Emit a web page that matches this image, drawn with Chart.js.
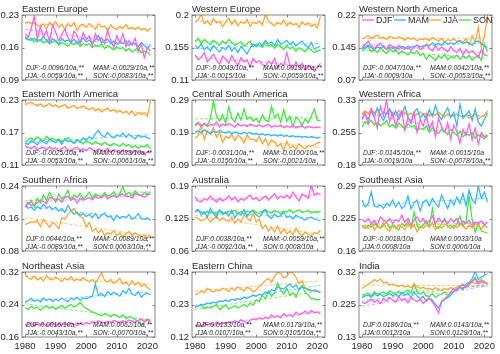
<!DOCTYPE html>
<html>
<head>
<meta charset="utf-8">
<script src="https://cdn.jsdelivr.net/npm/chart.js@4.4.1/dist/chart.umd.min.js"></script>
<style>
  html, body { margin: 0; padding: 0; background: #fff; }
  #wrap { position: relative; width: 500px; height: 354px; }
  #wrap canvas { position: absolute; left: 0; top: 0; }
</style>
</head>
<body>
<div id="wrap"></div>
<script>
// ---------------- data ----------------
const years = [1980,1981,1982,1983,1984,1985,1986,1987,1988,1989,1990,1991,1992,1993,1994,1995,1996,1997,1998,1999,
               2000,2001,2002,2003,2004,2005,2006,2007,2008,2009,2010,2011,2012,2013,2014,2015,2016,2017,2018,2019,2020,2021];
const xTicks = [1980, 1990, 2000, 2010, 2020];
const seasons = ['DJF', 'MAM', 'JJA', 'SON'];

const titles = ['Eastern Europe', 'Western Europe', 'Western North America',
                'Eastern North America', 'Central South America', 'Western Africa',
                'Southern Africa', 'Australia', 'Southeast Asia',
                'Northeast Asia', 'Eastern China', 'India'];

const yTicks = [
  [0.09, 0.16, 0.23], [0.11, 0.155, 0.2], [0.07, 0.145, 0.22],
  [0.11, 0.17, 0.23], [0.09, 0.19, 0.29], [0.18, 0.255, 0.33],
  [0.08, 0.16, 0.24], [0.06, 0.125, 0.19], [0.16, 0.225, 0.29],
  [0.16, 0.24, 0.32], [0.12, 0.23, 0.34], [0.13, 0.225, 0.32]
];

// trend labels: DJF, MAM, JJA, SON
const trendText = [
  ['-0.0096/10a,**', '-0.0029/10a,**', '-0.0059/10a,**', '-0.0083/10a,**'],
  ['-0.0049/10a,**', '0.0019/10a,**', '-0.0015/10a', '-0.0059/10a,**'],
  ['-0.0047/10a,**', '0.0042/10a,**', '-0.0009/10a', '-0.0053/10a,**'],
  ['-0.0025/10a,**', '0.0033/10a,**', '-0.0053/10a,**', '-0.0061/10a,**'],
  ['-0.0031/10a,**', '-0.0100/10a,**', '-0.0150/10a,**', '-0.0021/10a'],
  ['-0.0145/10a,**', '-0.0015/10a', '-0.0019/10a', '-0.0078/10a,**'],
  ['0.0044/10a,**', '-0.0089/10a,**', '-0.0089/10a,**', '0.0063/10a,**'],
  ['0.0038/10a,**', '-0.0059/10a,**', '-0.0092/10a,**', '0.0008/10a'],
  ['-0.0018/10a', '0.0033/10a', '0.0008/10a', '0.0006/10a'],
  ['0.0016/10a,**', '0.0062/10a,**', '-0.0043/10a,**', '-0.0070/10a,**'],
  ['0.0133/10a,**', '0.0179/10a,**', '0.0107/10a,**', '0.0105/10a,**'],
  ['0.0186/10a,**', '0.0143/10a,**', '0.0012/10a', '0.0129/10a,**']
];

// Eastern Europe
const eEuropeDJF = [.190,.182,.201,.228,.178,.205,.183,.196,.172,.208, .193,.175,.188,.200,.182,.170,.195,.186,.168,.192, .177,.185,.165,.190,.175,.182,.168,.198,.176,.160, .185,.170,.190,.162,.175,.165,.180,.150,.168,.138, .160,.152];
const eEuropeMAM = [.182,.176,.180,.172,.178,.175,.184,.176,.170,.179, .174,.168,.180,.173,.176,.171,.178,.169,.174,.180, .172,.176,.168,.177,.186,.170,.175,.178,.168,.174, .166,.172,.168,.175,.164,.170,.168,.162,.171,.164, .158,.166];
const eEuropeJJA = [.213,.215,.212,.214,.208,.205,.211,.200,.214,.207, .216,.203,.210,.199,.212,.205,.214,.196,.208,.210, .203,.212,.206,.199,.211,.204,.207,.196,.209,.202, .198,.206,.201,.210,.200,.203,.199,.204,.197,.201, .195,.202];
const eEuropeSON = [.183,.178,.175,.180,.172,.176,.170,.174,.168,.172, .175,.165,.170,.168,.163,.170,.166,.172,.162,.168, .165,.168,.160,.166,.162,.168,.158,.164,.160,.155, .162,.157,.160,.152,.158,.150,.155,.160,.148,.152, .150,.143];

// Western Europe
const wEuropeDJF = [.145,.138,.142,.148,.135,.140,.146,.137,.132,.143, .139,.133,.144,.136,.130,.141,.135,.138,.128,.140, .134,.137,.131,.129,.136,.132,.140,.127,.133,.130, .148,.131,.126,.135,.128,.133,.124,.130,.127,.122, .128,.133];
const wEuropeMAM = [.158,.154,.160,.152,.156,.150,.158,.153,.149,.155, .152,.158,.150,.155,.148,.156,.152,.146,.154,.160, .156,.162,.158,.165,.160,.163,.158,.166,.160,.162, .165,.159,.163,.157,.161,.164,.158,.155,.162,.153, .155,.157];
const wEuropeJJA = [.190,.193,.201,.188,.192,.186,.195,.189,.191,.184, .190,.196,.187,.193,.185,.191,.188,.194,.184,.190, .188,.192,.186,.201,.192,.188,.185,.190,.187,.193, .185,.190,.186,.188,.183,.191,.186,.189,.184,.187, .182,.198];
const wEuropeSON = [.163,.168,.160,.166,.162,.159,.165,.161,.158,.164, .160,.166,.162,.158,.161,.163,.157,.160,.164,.156, .160,.158,.155,.162,.157,.159,.154,.160,.156,.152, .158,.153,.156,.150,.155,.152,.149,.155,.151,.148, .150,.152];

// Western North America
const wnAmericaDJF = [.145,.152,.160,.148,.142,.150,.155,.146,.140,.152, .147,.139,.150,.143,.141,.148,.138,.146,.151,.140, .145,.152,.143,.137,.149,.139,.146,.141,.135,.147, .138,.133,.143,.128,.140,.132,.138,.130,.122,.140, .128,.125];
const wnAmericaMAM = [.142,.147,.150,.145,.140,.146,.144,.149,.141,.145, .143,.146,.141,.148,.144,.142,.147,.145,.150,.146, .148,.152,.149,.156,.151,.155,.150,.158,.153,.156, .152,.157,.160,.154,.158,.156,.150,.158,.160,.155, .148,.145];
const wnAmericaJJA = [.165,.168,.172,.166,.170,.174,.167,.169,.163,.171, .168,.165,.170,.166,.162,.168,.164,.167,.160,.165, .163,.166,.161,.168,.164,.160,.166,.158,.163,.161, .165,.159,.162,.157,.166,.150,.172,.155,.192,.145, .170,.220];
const wnAmericaSON = [.138,.142,.148,.135,.140,.133,.145,.137,.131,.142, .136,.139,.130,.137,.133,.128,.135,.130,.138,.126, .132,.118,.128,.122,.115,.126,.120,.130,.117,.124, .121,.128,.118,.125,.120,.127,.116,.122,.128,.115, .152,.135];

// Eastern North America
const enAmericaDJF = [.146,.142,.140,.145,.138,.141,.143,.137,.144,.139, .142,.136,.140,.144,.138,.135,.141,.143,.137,.140, .136,.142,.139,.134,.140,.137,.135,.141,.133,.138, .135,.132,.138,.134,.136,.131,.137,.133,.135,.130, .134,.132];
const enAmericaMAM = [.150,.148,.155,.152,.147,.156,.153,.149,.158,.154, .151,.156,.148,.159,.153,.155,.150,.157,.152,.160, .156,.162,.158,.168,.174,.165,.162,.170,.164,.160, .166,.163,.169,.161,.167,.162,.158,.165,.161,.163, .160,.158];
const enAmericaJJA = [.221,.224,.226,.222,.219,.223,.217,.220,.224,.218, .221,.216,.219,.222,.215,.218,.220,.214,.217,.219, .215,.212,.216,.210,.214,.208,.212,.215,.209,.213, .207,.211,.205,.209,.204,.210,.201,.207,.203,.206, .200,.228];
const enAmericaSON = [.152,.156,.160,.155,.162,.158,.154,.163,.157,.160, .155,.158,.152,.156,.161,.154,.150,.157,.153,.149, .155,.151,.148,.153,.150,.146,.152,.148,.145,.150, .147,.144,.150,.145,.148,.142,.146,.141,.145,.143, .148,.140];

// Central South America
const csAmericaDJF = [.214,.220,.210,.218,.208,.215,.212,.222,.207,.216, .211,.218,.213,.206,.217,.210,.214,.208,.216,.211, .209,.214,.207,.212,.215,.206,.211,.208,.213,.205, .210,.206,.212,.204,.208,.211,.203,.209,.206,.204, .207,.205];
const csAmericaMAM = [.190,.195,.188,.198,.192,.186,.194,.189,.197,.191, .188,.194,.186,.192,.189,.185,.191,.187,.190,.184, .188,.183,.186,.181,.185,.180,.183,.179,.184,.178, .181,.177,.180,.176,.179,.175,.178,.174,.177,.175, .173,.176];
const csAmericaJJA = [.172,.180,.212,.168,.195,.185,.205,.175,.190,.160, .178,.172,.185,.165,.182,.175,.158,.183,.168,.170, .162,.178,.155,.172,.150,.168,.160,.147,.155,.135, .163,.142,.150,.138,.155,.145,.140,.150,.148,.152, .158,.160];
const csAmericaSON = [.210,.222,.205,.218,.212,.232,.288,.240,.225,.245, .218,.268,.235,.222,.250,.228,.262,.230,.238,.225, .233,.220,.245,.228,.224,.270,.236,.248,.222,.260, .225,.240,.208,.238,.228,.212,.232,.220,.240,.262, .228,.226];

// Western Africa
const wAfricaDJF = [.285,.300,.275,.310,.290,.265,.315,.295,.330,.280, .300,.270,.292,.305,.260,.290,.275,.300,.255,.285, .270,.295,.262,.280,.245,.288,.268,.255,.278,.240, .272,.258,.230,.262,.248,.275,.238,.265,.228,.255, .245,.250];
const wAfricaMAM = [.288,.298,.285,.305,.290,.312,.295,.283,.300,.310, .292,.305,.285,.298,.315,.290,.280,.302,.310,.288, .298,.285,.308,.292,.318,.295,.285,.300,.312,.290, .302,.270,.320,.288,.296,.305,.282,.310,.278,.270, .285,.300];
const wAfricaJJA = [.295,.305,.298,.310,.300,.308,.296,.302,.298,.305, .300,.294,.306,.298,.302,.295,.300,.292,.298,.303, .296,.300,.293,.299,.295,.302,.297,.290,.298,.294, .292,.298,.294,.290,.296,.288,.293,.298,.286,.292, .295,.305];
const wAfricaSON = [.268,.280,.275,.283,.272,.278,.270,.276,.282,.268, .273,.265,.277,.270,.262,.275,.268,.271,.258,.265, .262,.270,.255,.266,.260,.252,.263,.258,.250,.262, .255,.248,.258,.245,.252,.248,.255,.242,.250,.245, .240,.248];

// Southern Africa
const sAfricaDJF = [.188,.200,.192,.195,.198,.205,.202,.196,.212,.210, .205,.208,.200,.212,.215,.205,.210,.198,.210,.205, .208,.212,.206,.215,.210,.212,.218,.208,.214,.216, .212,.218,.220,.214,.215,.210,.222,.218,.216,.212, .218,.220];
const sAfricaMAM = [.192,.185,.188,.180,.190,.184,.195,.186,.190,.182, .188,.178,.185,.175,.192,.180,.170,.176,.168,.172, .165,.170,.162,.172,.160,.168,.174,.163,.166,.155, .168,.160,.165,.162,.170,.158,.163,.172,.160,.158, .162,.155];
const sAfricaJJA = [.145,.148,.152,.150,.155,.140,.158,.148,.138,.150, .145,.135,.162,.158,.170,.178,.185,.172,.165,.160, .140,.150,.128,.135,.125,.132,.118,.125,.122,.130, .118,.125,.115,.122,.128,.118,.125,.120,.115,.120, .112,.120];
const sAfricaSON = [.190,.195,.205,.188,.210,.198,.218,.205,.225,.212, .200,.220,.208,.215,.230,.205,.218,.212,.222,.208, .215,.225,.210,.220,.217,.212,.224,.215,.218,.226, .212,.222,.238,.218,.225,.215,.228,.220,.216,.224, .220,.226];

// Australia
const australiaDJF = [.168,.160,.158,.165,.162,.170,.163,.158,.166,.160, .164,.170,.162,.168,.158,.165,.161,.167,.172,.163, .166,.160,.165,.170,.162,.168,.175,.164,.170,.166, .172,.165,.178,.168,.160,.174,.170,.165,.192,.172, .176,.172];
const australiaMAM = [.140,.143,.132,.138,.128,.145,.135,.127,.142,.133, .138,.130,.141,.126,.136,.132,.143,.129,.137,.140, .132,.128,.136,.142,.130,.125,.134,.128,.131,.138, .127,.130,.124,.132,.128,.125,.122,.126,.128,.124, .122,.121];
const australiaJJA = [.128,.125,.120,.123,.127,.118,.124,.130,.121,.126, .122,.119,.128,.115,.124,.118,.132,.126,.120,.135, .118,.124,.105,.112,.100,.108,.098,.110,.095,.104, .094,.100,.092,.106,.096,.090,.098,.093,.091,.097, .095,.102];
const australiaSON = [.140,.142,.138,.134,.140,.136,.138,.133,.142,.137, .135,.140,.138,.142,.136,.139,.134,.140,.138,.142, .137,.135,.140,.143,.138,.136,.141,.139,.134,.140, .138,.143,.136,.140,.142,.137,.139,.141,.136,.138, .137,.140];

// Southeast Asia
const seAsiaDJF = [.222,.218,.225,.215,.220,.212,.228,.222,.218,.225, .215,.223,.219,.232,.217,.225,.212,.222,.228,.218, .225,.215,.220,.230,.214,.226,.218,.222,.215,.225, .218,.225,.212,.220,.215,.222,.210,.218,.215,.220, .212,.218];
const seAsiaMAM = [.262,.248,.255,.278,.250,.248,.252,.245,.255,.250, .262,.248,.258,.245,.250,.270,.244,.256,.262,.240, .258,.262,.250,.265,.255,.248,.272,.258,.245,.262, .252,.268,.255,.275,.250,.282,.262,.255,.290,.265, .278,.258];
const seAsiaJJA = [.208,.212,.205,.215,.202,.210,.206,.218,.204,.200, .210,.205,.212,.208,.202,.215,.207,.212,.198,.210, .205,.212,.208,.216,.203,.210,.206,.214,.210,.205, .212,.207,.215,.209,.204,.212,.206,.215,.210,.204, .212,.206];
const seAsiaSON = [.210,.205,.212,.208,.215,.210,.205,.212,.218,.206, .212,.208,.202,.215,.210,.218,.205,.238,.210,.206, .212,.220,.208,.245,.210,.205,.215,.225,.208,.212, .205,.215,.230,.210,.218,.270,.222,.198,.215,.200, .198,.196];

// Northeast Asia
const neAsiaDJF = [.192,.190,.195,.188,.192,.189,.194,.187,.190,.196, .188,.192,.190,.193,.189,.195,.191,.188,.194,.190, .196,.192,.198,.195,.200,.197,.194,.199,.196,.201, .198,.195,.200,.197,.202,.199,.196,.201,.205,.198, .202,.195];
const neAsiaMAM = [.245,.250,.255,.248,.252,.246,.256,.250,.254,.247, .253,.249,.256,.251,.247,.255,.252,.258,.250,.256, .254,.258,.260,.290,.262,.268,.259,.272,.264,.270, .266,.260,.274,.268,.280,.266,.262,.272,.258,.265, .268,.264];
const neAsiaJJA = [.315,.305,.302,.310,.300,.306,.298,.312,.303,.300, .308,.302,.296,.305,.300,.309,.298,.303,.299,.306, .300,.296,.302,.293,.305,.318,.300,.295,.302,.292, .298,.304,.290,.296,.286,.300,.288,.295,.284,.290, .282,.276];
const neAsiaSON = [.232,.228,.236,.230,.234,.226,.232,.237,.230,.235, .228,.233,.238,.231,.236,.240,.234,.238,.245,.236, .230,.226,.222,.218,.215,.212,.218,.214,.210,.216, .212,.208,.215,.205,.210,.208,.203,.198,.190,.196, .205,.200];

// Eastern China
const eChinaDJF = [.158,.162,.155,.168,.160,.165,.158,.170,.162,.168, .165,.172,.168,.175,.170,.178,.172,.168,.176,.182, .178,.185,.180,.188,.182,.195,.186,.192,.185,.200, .190,.196,.188,.205,.195,.200,.208,.198,.210,.202, .205,.198];
const eChinaMAM = [.222,.225,.230,.228,.235,.232,.238,.235,.242,.240, .245,.240,.248,.244,.250,.246,.255,.250,.256,.262, .258,.265,.262,.272,.268,.280,.276,.290,.285,.282, .292,.300,.288,.296,.280,.290,.285,.282,.278,.276, .275,.270];
const eChinaJJA = [.262,.268,.275,.270,.285,.278,.272,.280,.276,.285, .280,.274,.286,.278,.290,.282,.276,.288,.284,.272, .280,.292,.300,.312,.318,.305,.325,.340,.335,.320, .325,.340,.336,.322,.300,.310,.285,.278,.275,.280, .276,.270];
const eChinaSON = [.220,.225,.228,.215,.222,.218,.225,.230,.212,.222, .228,.215,.220,.226,.218,.224,.230,.222,.235,.228, .245,.240,.262,.250,.275,.258,.270,.302,.280,.265, .285,.262,.270,.255,.282,.295,.270,.262,.248,.250, .245,.248];

// India
const indiaDJF = [.232,.228,.235,.240,.232,.238,.228,.242,.235,.245, .238,.232,.248,.236,.242,.230,.245,.238,.234,.240, .228,.238,.245,.232,.218,.200,.235,.242,.250,.262, .270,.265,.278,.282,.275,.288,.292,.300,.285,.292, .288,.285];
const indiaMAM = [.245,.250,.252,.246,.258,.250,.255,.248,.252,.258, .250,.255,.248,.260,.252,.258,.245,.262,.250,.242, .248,.235,.242,.238,.225,.215,.232,.240,.245,.252, .262,.270,.275,.268,.285,.290,.300,.322,.298,.305, .310,.315];
const indiaJJA = [.272,.278,.285,.290,.298,.292,.300,.288,.290,.282, .285,.280,.278,.282,.276,.280,.274,.285,.276,.272, .275,.270,.272,.268,.274,.270,.266,.272,.268,.275, .270,.276,.280,.285,.278,.282,.290,.286,.292,.296, .290,.288];
const indiaSON = [.252,.255,.258,.250,.262,.256,.258,.262,.255,.265, .260,.258,.264,.256,.262,.268,.258,.285,.262,.255, .262,.250,.248,.258,.245,.252,.255,.262,.250,.258, .262,.268,.275,.272,.280,.285,.292,.305,.288,.298, .292,.285];

const panels = [
  [eEuropeDJF, eEuropeMAM, eEuropeJJA, eEuropeSON],
  [wEuropeDJF, wEuropeMAM, wEuropeJJA, wEuropeSON],
  [wnAmericaDJF, wnAmericaMAM, wnAmericaJJA, wnAmericaSON],
  [enAmericaDJF, enAmericaMAM, enAmericaJJA, enAmericaSON],
  [csAmericaDJF, csAmericaMAM, csAmericaJJA, csAmericaSON],
  [wAfricaDJF, wAfricaMAM, wAfricaJJA, wAfricaSON],
  [sAfricaDJF, sAfricaMAM, sAfricaJJA, sAfricaSON],
  [australiaDJF, australiaMAM, australiaJJA, australiaSON],
  [seAsiaDJF, seAsiaMAM, seAsiaJJA, seAsiaSON],
  [neAsiaDJF, neAsiaMAM, neAsiaJJA, neAsiaSON],
  [eChinaDJF, eChinaMAM, eChinaJJA, eChinaSON],
  [indiaDJF, indiaMAM, indiaJJA, indiaSON]
];

// ---------------- style ----------------
const colors = ['#ff5ee8', '#30b8ff', '#ffa530', '#3ee83e'];
const trendColors = ['rgba(255,94,232,0.65)', 'rgba(48,184,255,0.65)', 'rgba(255,165,48,0.65)', 'rgba(62,232,62,0.65)'];
const FONT = '"Liberation Sans", Arial, sans-serif';
const TXT = '#262626';

const colLeft = [22, 192, 359];
const boxW = 133;
const rowTop = [15, 100, 186, 272];
const boxH = 65;
const yAxisW = 30;
const xAxisH = 14;

Chart.defaults.font.family = FONT;
Chart.defaults.font.size = 9;
Chart.defaults.color = TXT;

// least squares trend from the series itself
function trendLine(vals) {
  const n = vals.length;
  let sx = 0, sy = 0, sxx = 0, sxy = 0;
  for (let i = 0; i < n; i++) {
    sx += years[i]; sy += vals[i];
    sxx += years[i] * years[i]; sxy += years[i] * vals[i];
  }
  const b = (n * sxy - sx * sy) / (n * sxx - sx * sx);
  const a = (sy - b * sx) / n;
  return [{ x: years[0], y: a + b * years[0] }, { x: years[n - 1], y: a + b * years[n - 1] }];
}

// =====================
// frame, ticks, title, trend labels, legend
// =====================
const framePlugin = {
  id: 'frame',
  afterDatasetsDraw(chart, args, opts) {
    const p = opts.panel;
    const ctx = chart.ctx;
    const a = chart.chartArea;
    const xs = chart.scales.x, ys = chart.scales.y;
    ctx.save();
    ctx.strokeStyle = '#666';
    ctx.lineWidth = 0.8;
    ctx.strokeRect(a.left, a.top, a.right - a.left, a.bottom - a.top);

    ctx.beginPath();
    xTicks.forEach(v => {
      const px = Math.round(xs.getPixelForValue(v)) + 0.5;
      ctx.moveTo(px, a.bottom); ctx.lineTo(px, a.bottom - 2.5);
      ctx.moveTo(px, a.top); ctx.lineTo(px, a.top + 2.5);
    });
    yTicks[p].forEach(v => {
      const py = Math.round(ys.getPixelForValue(v)) + 0.5;
      ctx.moveTo(a.left, py); ctx.lineTo(a.left + 2.5, py);
      ctx.moveTo(a.right, py); ctx.lineTo(a.right - 2.5, py);
    });
    ctx.stroke();

    ctx.fillStyle = TXT;
    ctx.textAlign = 'left';
    ctx.textBaseline = 'alphabetic';
    ctx.font = '9.5px ' + FONT;
    ctx.fillText(titles[p], a.left, a.top - 3);

    ctx.font = 'italic 6.8px ' + FONT;
    ctx.textBaseline = 'middle';
    const t = trendText[p];
    ctx.fillText(seasons[0] + ':' + t[0], a.left + 4, a.bottom - 12);
    ctx.fillText(seasons[1] + ':' + t[1], a.left + 71, a.bottom - 12);
    ctx.fillText(seasons[2] + ':' + t[2], a.left + 4, a.bottom - 3.5);
    ctx.fillText(seasons[3] + ':' + t[3], a.left + 71, a.bottom - 3.5);

    if (opts.legend) {
      const offs = [3, 35, 70, 100];
      const ly = a.top + 5;
      ctx.font = '9px ' + FONT;
      seasons.forEach((s, i) => {
        const lx = a.left + offs[i];
        ctx.strokeStyle = colors[i];
        ctx.lineWidth = 1.3;
        ctx.beginPath();
        ctx.moveTo(lx, ly); ctx.lineTo(lx + 12, ly);
        ctx.stroke();
        ctx.fillText(s, lx + 14, ly + 0.5);
      });
    }
    ctx.restore();
  }
};

// =====================
// RENDER PANELS
// =====================
const wrap = document.getElementById('wrap');

panels.forEach((series, p) => {
  const col = p % 3, row = Math.floor(p / 3);
  const left = colLeft[col], top = rowTop[row];
  const right = left + boxW, bottom = top + boxH;
  const isBottom = row === 3;

  const cv = document.createElement('canvas');
  cv.width = 500; cv.height = 354;
  wrap.appendChild(cv);

  const datasets = [];
  series.forEach((vals, i) => {
    datasets.push({
      data: vals.map((v, k) => ({ x: years[k], y: v })),
      borderColor: colors[i],
      borderWidth: 1.25,
      pointRadius: 0,
      tension: 0,
      fill: false
    });
  });
  series.forEach((vals, i) => {
    datasets.push({
      data: trendLine(vals),
      borderColor: trendColors[i],
      borderWidth: 1,
      borderDash: [3, 2],
      pointRadius: 0,
      fill: false
    });
  });

  const yt = yTicks[p];
  new Chart(cv.getContext('2d'), {
    type: 'line',
    data: { datasets: datasets },
    options: {
      responsive: false,
      animation: false,
      events: [],
      layout: {
        padding: {
          left: left - yAxisW,
          right: 500 - right,
          top: top,
          bottom: 354 - bottom - xAxisH
        }
      },
      plugins: {
        legend: { display: false },
        title: { display: false },
        tooltip: { enabled: false },
        frame: { panel: p, legend: p === 2 }
      },
      scales: {
        x: {
          type: 'linear',
          min: 1979,
          max: 2022.5,
          grid: { display: false, drawTicks: false },
          border: { display: false },
          afterBuildTicks: s => { s.ticks = xTicks.map(v => ({ value: v })); },
          afterFit: s => { s.height = xAxisH; },
          ticks: {
            display: isBottom,
            padding: 4,
            maxRotation: 0,
            autoSkip: false,
            font: { size: 9.5 },
            callback: v => String(v)
          }
        },
        y: {
          min: yt[0],
          max: yt[2],
          grid: { display: false, drawTicks: false },
          border: { display: false },
          afterBuildTicks: s => { s.ticks = yt.map(v => ({ value: v })); },
          afterFit: s => { s.width = yAxisW; },
          ticks: {
            padding: 3,
            autoSkip: false,
            font: { size: 9.5 },
            callback: v => String(v)
          }
        }
      }
    },
    plugins: [framePlugin]
  });
});
</script>
</body>
</html>
